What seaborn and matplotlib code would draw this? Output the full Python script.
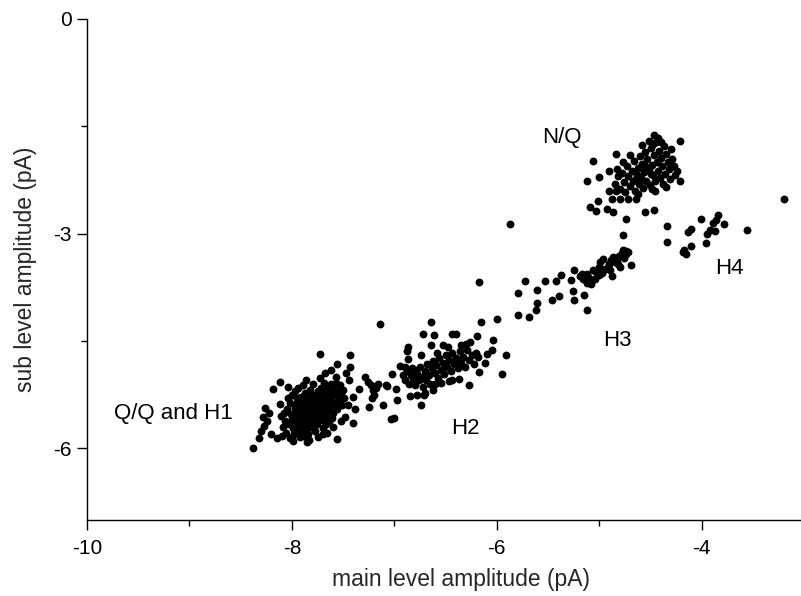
import numpy as np
import pandas as pd
import matplotlib
matplotlib.use('Agg')
import matplotlib.pyplot as plt
import seaborn as sns

# Q/Q and H1 cluster
qq_x = [-8.38, -8.32, -8.28, -8.26, -8.27, -8.18, -8.12, -8.04, -8.20, -8.15, -7.99, -7.85, -7.75, -7.56,
        -7.73, -7.43, -7.56, -7.43, -7.29, -7.21, -7.20, -7.25, -7.40, -7.48, -7.35, -7.40, -7.44, -7.26,
        -7.23, -7.47, -7.62, -7.68, -8.22, -8.24, -8.30, -8.10, -8.02, -7.92, -7.66, -7.60, -7.38, -7.45,
        -7.52,
        -8.11, -8.09, -8.12, -8.07, -8.05, -8.06, -8.04, -8.03, -8.01, -8.02, -7.99, -8.00, -7.98, -7.97,
        -7.96, -7.95, -7.98, -7.94, -7.97, -7.93, -7.95, -7.91, -7.93, -7.94, -7.92, -7.90, -7.91, -7.89,
        -7.90, -7.88, -7.89, -7.87, -7.86, -7.88, -7.85, -7.87, -7.84, -7.86, -7.83, -7.84, -7.82, -7.83,
        -7.81, -7.82, -7.80, -7.81, -7.79, -7.80, -7.78, -7.79, -7.77, -7.78, -7.76, -7.77, -7.75, -7.76,
        -7.74, -7.73, -7.75, -7.72, -7.73, -7.71, -7.72, -7.70, -7.71, -7.69, -7.70, -7.68, -7.69, -7.67,
        -7.68, -7.66, -7.67, -7.65, -7.64, -7.65, -7.63, -7.64, -7.62, -7.61, -7.62, -7.60, -7.59, -7.60,
        -7.58, -7.57, -7.58, -7.56, -7.55, -7.54, -7.53, -7.52, -7.51, -7.50, -7.49, -7.85, -7.92, -7.80,
        -7.74, -7.96, -7.66, -7.88, -8.08, -7.57, -7.83, -7.70,
        -7.84, -7.78, -7.72, -7.90, -7.86, -7.76, -7.70, -7.82, -7.94, -7.64, -7.96, -7.88, -7.80, -7.74,
        -7.68, -7.92, -7.62, -8.00, -7.76, -7.86,
        -7.18, -7.16, -7.22, -7.11, -7.08, -7.03, -7.00, -7.14]
qq_y = [-6.00, -5.85, -5.56, -5.43, -5.68, -5.17, -5.07, -5.14, -5.80, -5.86, -5.89, -5.91, -5.84, -5.87,
        -4.68, -4.70, -4.82, -4.86, -5.00, -5.19, -5.25, -5.42, -5.65, -5.56, -5.17, -5.28, -5.04, -5.07,
        -5.12, -4.94, -4.90, -4.95, -5.50, -5.62, -5.76, -5.82, -5.86, -5.84, -5.78, -5.70, -5.45, -5.40,
        -5.62,
        -5.55, -5.70, -5.38, -5.62, -5.45, -5.78, -5.30, -5.66, -5.52, -5.36, -5.72, -5.25, -5.60, -5.44,
        -5.62, -5.30, -5.80, -5.50, -5.20, -5.35, -5.55, -5.68, -5.42, -5.15, -5.75, -5.48, -5.28, -5.60,
        -5.38, -5.70, -5.12, -5.52, -5.33, -5.44, -5.65, -5.22, -5.80, -5.05, -5.40, -5.58, -5.30, -5.48,
        -5.70, -5.18, -5.36, -5.50, -5.25, -5.62, -5.44, -5.10, -5.75, -5.42, -5.30, -5.55, -5.20, -5.66,
        -5.35, -5.02, -5.38, -5.48, -5.26, -5.60, -5.15, -5.72, -5.32, -5.45, -5.22, -5.56, -5.08, -5.66,
        -5.40, -5.28, -5.50, -5.16, -5.62, -5.34, -5.22, -5.46, -5.10, -5.58, -5.30, -5.40, -5.18, -5.50,
        -5.26, -5.08, -5.36, -5.45, -5.20, -5.32, -5.12, -5.26, -5.40, -5.18, -5.30, -5.28, -5.56, -5.45,
        -5.52, -5.38, -5.38, -5.82, -5.50, -5.00, -5.88, -5.80,
        -5.46, -5.34, -5.40, -5.52, -5.62, -5.48, -5.28, -5.24, -5.64, -5.30, -5.70, -5.32, -5.56, -5.44,
        -5.34, -5.46, -5.22, -5.58, -5.60, -5.76,
        -5.15, -5.10, -5.30, -5.40, -5.12, -5.59, -5.58, -4.26]

# H2 cluster
h2_x = [-6.87, -6.88, -6.87, -6.95, -7.02, -6.98, -6.97, -7.07, -6.74, -6.72, -6.61, -6.64, -6.44, -6.40,
        -6.19, -6.04, -6.05, -6.20, -6.30, -6.26, -5.91, -5.95, -6.17, -6.27, -6.37, -6.47, -6.44, -6.60,
        -6.70, -6.71, -6.74, -6.78, -6.85, -6.64, -6.15, -6.00,
        -6.92, -6.90, -6.88, -6.86, -6.84, -6.82, -6.80, -6.80, -6.78, -6.76, -6.75, -6.73, -6.72, -6.70,
        -6.69, -6.68, -6.66, -6.65, -6.63, -6.62, -6.60, -6.59, -6.57, -6.56, -6.55, -6.53, -6.52, -6.50,
        -6.49, -6.47, -6.45, -6.44, -6.42, -6.40, -6.38, -6.36, -6.35, -6.33, -6.31, -6.29, -6.27, -6.24,
        -6.22, -6.18, -6.10, -6.12, -6.83, -6.90, -6.58, -6.53, -6.48, -6.35, -6.62, -6.55]
h2_y = [-4.58, -4.64, -4.75, -4.85, -4.96, -5.17, -5.33, -5.13, -4.70, -4.40, -4.42, -4.55, -4.40, -4.40,
        -4.43, -4.48, -4.62, -4.67, -4.54, -4.51, -4.70, -4.96, -4.93, -5.12, -5.03, -5.06, -5.04, -5.10,
        -5.23, -5.26, -5.40, -5.26, -5.27, -4.23, -4.23, -4.19,
        -4.98, -5.05, -4.92, -5.10, -4.98, -5.02, -4.90, -5.12, -4.96, -5.05, -4.86, -5.00, -5.14, -4.92,
        -5.04, -4.82, -4.98, -5.10, -4.88, -4.78, -4.95, -4.84, -5.02, -4.74, -4.90, -4.80, -4.96, -4.70,
        -4.86, -4.76, -4.92, -4.66, -4.82, -4.74, -4.88, -4.64, -4.80, -4.72, -4.86, -4.62, -4.76, -4.70,
        -4.82, -4.72, -4.68, -4.80, -4.88, -4.86, -4.66, -4.56, -4.58, -4.56, -5.18, -5.08]

# H3 cluster
h3_x = [-5.87, -6.17, -5.79, -5.69, -5.79, -5.73, -5.62, -5.61, -5.61, -5.53, -5.46, -5.39, -5.42, -5.37,
        -5.28, -5.25, -5.26, -5.25, -5.15, -5.12, -5.17, -5.16, -5.12, -5.08, -5.04, -5.03, -5.00, -4.97,
        -4.94, -4.96, -4.91, -4.89, -4.87, -4.83, -4.81, -4.78, -4.74, -4.74, -4.77, -4.80, -4.88, -4.69,
        -4.77, -4.74, -4.90, -4.99, -5.06, -5.19, -5.12, -4.85, -4.82, -4.92, -4.76, -4.72, -5.10, -5.00]
h3_y = [-2.87, -3.67, -4.13, -4.16, -3.83, -3.66, -4.07, -3.97, -3.78, -3.66, -3.93, -3.87, -3.66, -3.57,
        -3.64, -3.50, -3.80, -3.93, -3.86, -4.06, -3.56, -3.63, -3.69, -3.70, -3.63, -3.53, -3.46, -3.55,
        -3.49, -3.35, -3.43, -3.37, -3.32, -3.36, -3.31, -3.27, -3.29, -3.24, -3.23, -3.47, -3.59, -3.44,
        -3.02, -2.79, -3.51, -3.39, -3.51, -3.59, -3.56, -3.40, -3.42, -3.46, -3.34, -3.26, -3.62, -3.58]

# N/Q cluster
nq_x = [-4.47, -4.21, -4.84, -5.06, -5.12, -5.00, -4.91, -4.83, -4.21, -4.35, -5.09, -5.03, -4.93, -4.87,
        -5.01, -4.55, -4.47, -4.49, -4.91, -4.88, -4.80, -4.72, -4.64,
        -4.85, -4.82, -4.80, -4.78, -4.76, -4.75, -4.73, -4.72, -4.70, -4.68, -4.67, -4.66, -4.65, -4.63,
        -4.62, -4.61, -4.60, -4.59, -4.58, -4.57, -4.56, -4.55, -4.54, -4.53, -4.52, -4.51, -4.50, -4.49,
        -4.48, -4.47, -4.46, -4.45, -4.44, -4.43, -4.42, -4.41, -4.40, -4.39, -4.37, -4.36, -4.35, -4.33,
        -4.32, -4.30, -4.29, -4.27, -4.26, -4.24, -4.31, -4.38, -4.58, -4.52, -4.70, -4.77, -4.84, -4.62,
        -4.46, -4.55, -4.64, -4.50, -4.43, -4.48, -4.40]
nq_y = [-1.62, -1.70, -1.89, -1.98, -2.26, -2.21, -2.12, -2.09, -2.26, -2.35, -2.62, -2.68, -2.66, -2.69,
        -2.54, -2.69, -2.67, -2.38, -2.41, -2.51, -2.52, -2.51, -2.52,
        -2.30, -2.20, -2.38, -2.15, -2.28, -2.42, -2.05, -2.20, -2.34, -2.12, -2.26, -1.98, -2.40, -2.18,
        -2.08, -2.30, -1.92, -2.22, -2.02, -2.36, -2.14, -1.86, -2.26, -1.96, -2.10, -2.32, -1.80, -2.04,
        -2.18, -1.90, -2.26, -1.72, -2.00, -2.12, -1.84, -2.22, -1.94, -2.06, -1.78, -2.16, -1.88, -2.00,
        -2.10, -1.82, -1.95, -2.05, -2.18, -2.12, -2.24, -2.30, -1.76, -1.70, -1.90, -2.00, -2.40, -2.44,
        -2.40, -2.06, -2.24, -2.16, -1.66, -1.75, -1.72]

# H4 cluster
h4_x = [-4.34, -4.34, -4.18, -4.15, -4.17, -4.11, -4.13, -4.11, -4.01, -3.96, -3.95, -3.92, -3.87, -3.89,
        -3.84, -3.86, -3.78, -3.56, -3.20]
h4_y = [-2.89, -3.12, -3.25, -3.29, -3.23, -3.17, -2.97, -2.93, -2.80, -3.13, -3.00, -2.95, -2.96, -2.85,
        -2.74, -2.81, -2.87, -2.95, -2.51]

labels = ['Q/Q and H1', 'H2', 'H3', 'H4', 'N/Q']
label_x = [-9.16, -6.31, -4.82, -3.73, -5.37]
label_y = [-5.51, -5.72, -4.49, -3.48, -1.65]

df = pd.DataFrame({
    'main': qq_x + h2_x + h3_x + nq_x + h4_x,
    'sub': qq_y + h2_y + h3_y + nq_y + h4_y,
})

sns.set_style('ticks')
plt.rcParams['font.family'] = ['Liberation Sans', 'DejaVu Sans']
plt.rcParams['axes.unicode_minus'] = False

fig = plt.figure(figsize=(8.01, 5.96), dpi=100)
ax = fig.add_axes([87 / 801, 76 / 596, 748 / 801, 501 / 596])

sns.scatterplot(data=df, x='main', y='sub', color='black', s=32, linewidth=0, ax=ax)

for t, lx, ly in zip(labels, label_x, label_y):
    ax.text(lx, ly, t, fontsize=16, ha='center', va='center', color='black')

ax.set_xlim(-10, -2.7)
ax.set_ylim(-7, 0)
ax.set_xticks([-10, -8, -6, -4])
ax.set_xticks([-9, -7, -5, -3], minor=True)
ax.set_yticks([-6, -3, 0])
ax.set_yticks([-4.5, -1.5], minor=True)
ax.set_xticklabels(['-10', '-8', '-6', '-4'])
ax.set_yticklabels(['-6', '-3', '0'])
ax.tick_params(which='major', length=7, width=1, labelsize=15, pad=7, color='black', labelcolor='black')
ax.tick_params(axis='y', which='major', pad=4)
ax.tick_params(which='minor', length=4.5, width=1, color='black')
for side in ['top', 'right']:
    ax.spines[side].set_visible(False)
for side in ['left', 'bottom']:
    ax.spines[side].set_linewidth(1.0)
    ax.spines[side].set_color('black')

ax.set_xlabel('main level amplitude (pA)', fontsize=16.5, labelpad=7)
ax.set_ylabel('sub level amplitude (pA)', fontsize=16.5, labelpad=12)

fig.savefig('out.png', dpi=100)
